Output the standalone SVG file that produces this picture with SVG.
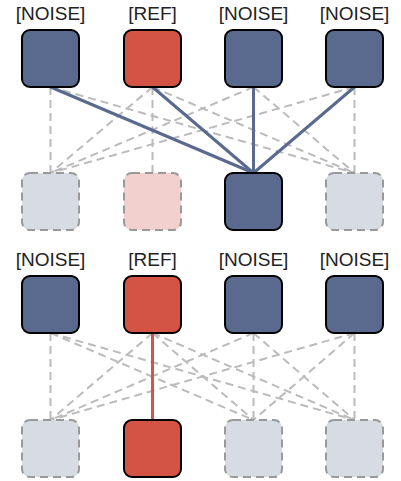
<svg xmlns="http://www.w3.org/2000/svg" width="401" height="481" viewBox="0 0 401 481">
<style>
.lbl{font-family:"Liberation Sans",Arial,sans-serif;font-size:19px;fill:#222;text-anchor:middle}
.blue{fill:#5a6a8e;stroke:#000;stroke-width:2}
.red{fill:#d35444;stroke:#000;stroke-width:2}
.fblue{fill:#d6dbe4;stroke:#999;stroke-width:2;stroke-dasharray:8 5}
.fred{fill:#f2d0cd;stroke:#999;stroke-width:2;stroke-dasharray:8 5}
.dash{stroke:#bbb;stroke-width:2;stroke-dasharray:8 5;fill:none}
.sb{stroke:#5a6a8e;stroke-width:3;fill:none}
.sr{stroke:#d35444;stroke-width:3;fill:none}
</style>
<rect width="401" height="481" fill="#fff"/>
<g id="connectors">
<!-- top half dashed -->
<line class="dash" x1="50.5" y1="87" x2="50.5" y2="173"/>
<line class="dash" x1="50.5" y1="87" x2="354.5" y2="173"/>
<line class="dash" x1="152.5" y1="87" x2="50.5" y2="173"/>
<line class="dash" x1="152.5" y1="87" x2="152.5" y2="173"/>
<line class="dash" x1="152.5" y1="87" x2="354.5" y2="173"/>
<line class="dash" x1="253.5" y1="87" x2="50.5" y2="173"/>
<line class="dash" x1="253.5" y1="87" x2="354.5" y2="173"/>
<line class="dash" x1="354.5" y1="87" x2="50.5" y2="173"/>
<line class="dash" x1="354.5" y1="87" x2="354.5" y2="173"/>
<!-- top half solid -->
<line class="sb" x1="50.5" y1="87" x2="253.5" y2="173"/>
<line class="sb" x1="152.5" y1="87" x2="253.5" y2="173"/>
<line class="sb" x1="253.5" y1="87" x2="253.5" y2="173"/>
<line class="sb" x1="354.5" y1="87" x2="253.5" y2="173"/>
<!-- bottom half dashed -->
<line class="dash" x1="50.5" y1="333" x2="50.5" y2="420"/>
<line class="dash" x1="50.5" y1="333" x2="253.5" y2="420"/>
<line class="dash" x1="50.5" y1="333" x2="354.5" y2="420"/>
<line class="dash" x1="152.5" y1="333" x2="50.5" y2="420"/>
<line class="dash" x1="152.5" y1="333" x2="253.5" y2="420"/>
<line class="dash" x1="152.5" y1="333" x2="354.5" y2="420"/>
<line class="dash" x1="253.5" y1="333" x2="50.5" y2="420"/>
<line class="dash" x1="253.5" y1="333" x2="253.5" y2="420"/>
<line class="dash" x1="253.5" y1="333" x2="354.5" y2="420"/>
<line class="dash" x1="354.5" y1="333" x2="50.5" y2="420"/>
<line class="dash" x1="354.5" y1="333" x2="253.5" y2="420"/>
<line class="dash" x1="354.5" y1="333" x2="354.5" y2="420"/>
<!-- bottom half solid -->
<line class="sr" x1="152.5" y1="333" x2="152.5" y2="420"/>
</g>
<g id="label-t1"><text class="lbl" x="50.5" y="20">[NOISE]</text></g>
<g id="label-t2"><text class="lbl" x="152.5" y="20">[REF]</text></g>
<g id="label-t3"><text class="lbl" x="253.5" y="20">[NOISE]</text></g>
<g id="label-t4"><text class="lbl" x="354.5" y="20">[NOISE]</text></g>
<g id="a1"><rect class="blue" x="22" y="30" width="57" height="57" rx="8"/></g>
<g id="a2"><rect class="red" x="124" y="30" width="57" height="57" rx="8"/></g>
<g id="a3"><rect class="blue" x="225" y="30" width="57" height="57" rx="8"/></g>
<g id="a4"><rect class="blue" x="326" y="30" width="57" height="57" rx="8"/></g>
<g id="b1"><rect class="fblue" x="22" y="173" width="57" height="57" rx="8"/></g>
<g id="b2"><rect class="fred" x="124" y="173" width="57" height="57" rx="8"/></g>
<g id="b3"><rect class="blue" x="225" y="173" width="57" height="57" rx="8"/></g>
<g id="b4"><rect class="fblue" x="326" y="173" width="57" height="57" rx="8"/></g>
<g id="label-c1"><text class="lbl" x="50.5" y="266">[NOISE]</text></g>
<g id="label-c2"><text class="lbl" x="152.5" y="266">[REF]</text></g>
<g id="label-c3"><text class="lbl" x="253.5" y="266">[NOISE]</text></g>
<g id="label-c4"><text class="lbl" x="354.5" y="266">[NOISE]</text></g>
<g id="c1"><rect class="blue" x="22" y="276" width="57" height="57" rx="8"/></g>
<g id="c2"><rect class="red" x="124" y="276" width="57" height="57" rx="8"/></g>
<g id="c3"><rect class="blue" x="225" y="276" width="57" height="57" rx="8"/></g>
<g id="c4"><rect class="blue" x="326" y="276" width="57" height="57" rx="8"/></g>
<g id="d1"><rect class="fblue" x="22" y="420" width="57" height="57" rx="8"/></g>
<g id="d2"><rect class="red" x="124" y="420" width="57" height="57" rx="8"/></g>
<g id="d3"><rect class="fblue" x="225" y="420" width="57" height="57" rx="8"/></g>
<g id="d4"><rect class="fblue" x="326" y="420" width="57" height="57" rx="8"/></g>
</svg>
